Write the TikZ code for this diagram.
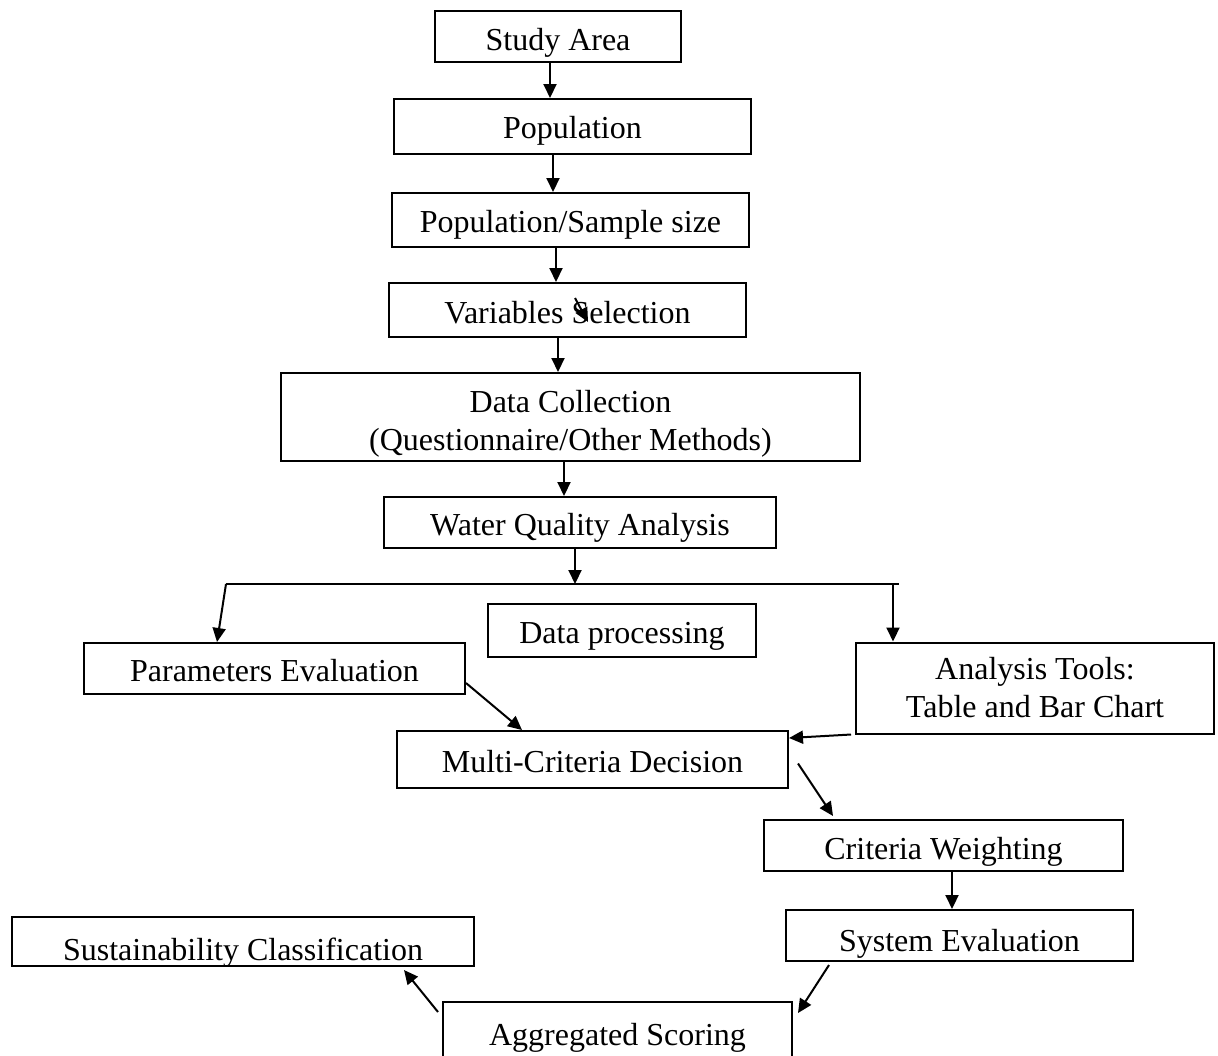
\documentclass[tikz,border=0pt]{standalone}
\usepackage{fontspec}
\setmainfont{Liberation Serif}
\usetikzlibrary{arrows.meta}

\begin{document}
\begin{tikzpicture}[x=0.5pt,y=-0.5pt,line width=1pt,>={Triangle[length=7pt,width=6.5pt]},
  every node/.style={font=\fontsize{16}{19}\selectfont},
  stage/.style={draw,rectangle,inner sep=0pt,text height=13pt,text depth=0pt},
  twoline/.style={draw,rectangle,inner sep=0pt,align=center}]
\useasboundingbox (0,0) rectangle (1218,1055);
\clip (0,0) rectangle (1218,1055);
% main column
\node[stage,text height=13.5pt,minimum width=123pt,minimum height=25.5pt] (study) at (558,36.5) {Study Area};
\node[stage,text height=12pt,minimum width=178.5pt,minimum height=27.5pt] (pop) at (572.5,126.5) {Population};
\node[stage,text height=12pt,minimum width=178.5pt,minimum height=27pt] (sample) at (570.5,220) {Population/Sample size};
\node[stage,minimum width=178.5pt,minimum height=27pt] (vars) at (567.5,310) {Variables Selection};
\node[twoline,minimum width=289.5pt,minimum height=44pt] (collect) at (570.5,417) {\rule{0pt}{18pt}Data Collection\\(Questionnaire/Other Methods)};
\node[stage,minimum width=196pt,minimum height=25.5pt] (water) at (580,522.5) {Water Quality Analysis};
\coordinate (barL) at (226,584);
\coordinate (barR) at (899,584);
% branches
\node[stage,minimum width=134pt,minimum height=26.5pt] (process) at (622,630.5) {Data processing};
\node[stage,minimum width=190.5pt,minimum height=25.5pt] (params) at (274.5,668.5) {Parameters Evaluation};
\node[twoline,minimum width=179pt,minimum height=45.5pt] (tools) at (1035,688) {Analysis Tools:\\Table and Bar Chart};
\node[stage,minimum width=195.5pt,minimum height=28.5pt] (mcd) at (592.5,759.5) {Multi-Criteria Decision};
\node[stage,text height=14pt,minimum width=179.5pt,minimum height=25.5pt] (weight) at (943.5,845.5) {Criteria Weighting};
\node[stage,text height=16pt,minimum width=173.5pt,minimum height=25.5pt] (system) at (959.5,935.5) {System Evaluation};
\node[stage,minimum width=174.5pt,minimum height=30pt] (score) at (617.5,1032) {Aggregated Scoring};
\node[stage,text height=19pt,minimum width=231pt,minimum height=24.5pt] (sustain) at (243,941.5) {Sustainability Classification};
% connectors
\draw[->] ([xshift=-4pt]study.south) -- ([xshift=-4pt]study.south |- pop.north);
\draw[->] ([xshift=-9.75pt]pop.south) -- ([xshift=-9.75pt]pop.south |- sample.north);
\draw[->] ([xshift=-7.25pt]sample.south) -- ([xshift=-7.25pt]sample.south |- vars.north);
\draw[->] ([xshift=3.75pt,yshift=6pt]vars.center) -- ([xshift=10.25pt,yshift=-6pt]vars.center);
\draw[->] ([xshift=-4.75pt]vars.south) -- ([xshift=-4.75pt]vars.south |- collect.north);
\draw[->] ([xshift=-3.25pt]collect.south) -- ([xshift=-3.25pt]collect.south |- water.north);
\draw[->] ([xshift=-2.5pt]water.south) -- ([xshift=-2.5pt]water.south |- barL);
\draw (barL) -- (barR);
\draw[->] (barL) -- ([xshift=-28.75pt]params.north);
\draw[->] ([xshift=-71pt]tools.north |- barR) -- ([xshift=-71pt]tools.north);
\draw[->] ([yshift=6pt]params.south east) -- ([xshift=-35.25pt]mcd.north);
\draw[->] ([xshift=-2pt]tools.south west) -- ([yshift=-4pt]mcd.north east);
\draw[->] ([xshift=4.5pt,yshift=-2pt]mcd.east) -- ([xshift=-55.25pt,yshift=1.5pt]weight.north);
\draw[->] ([xshift=4.25pt]weight.south) -- ([xshift=4.25pt]weight.south |- system.north);
\draw[->] ([xshift=22pt,yshift=-1.5pt]system.south west) -- ([xshift=2.5pt,yshift=-6pt]score.north east);
\draw[->] ([xshift=-2pt,yshift=-5.5pt]score.north west) -- ([xshift=-35.5pt,yshift=-1.5pt]sustain.south east);
\end{tikzpicture}
\end{document}
